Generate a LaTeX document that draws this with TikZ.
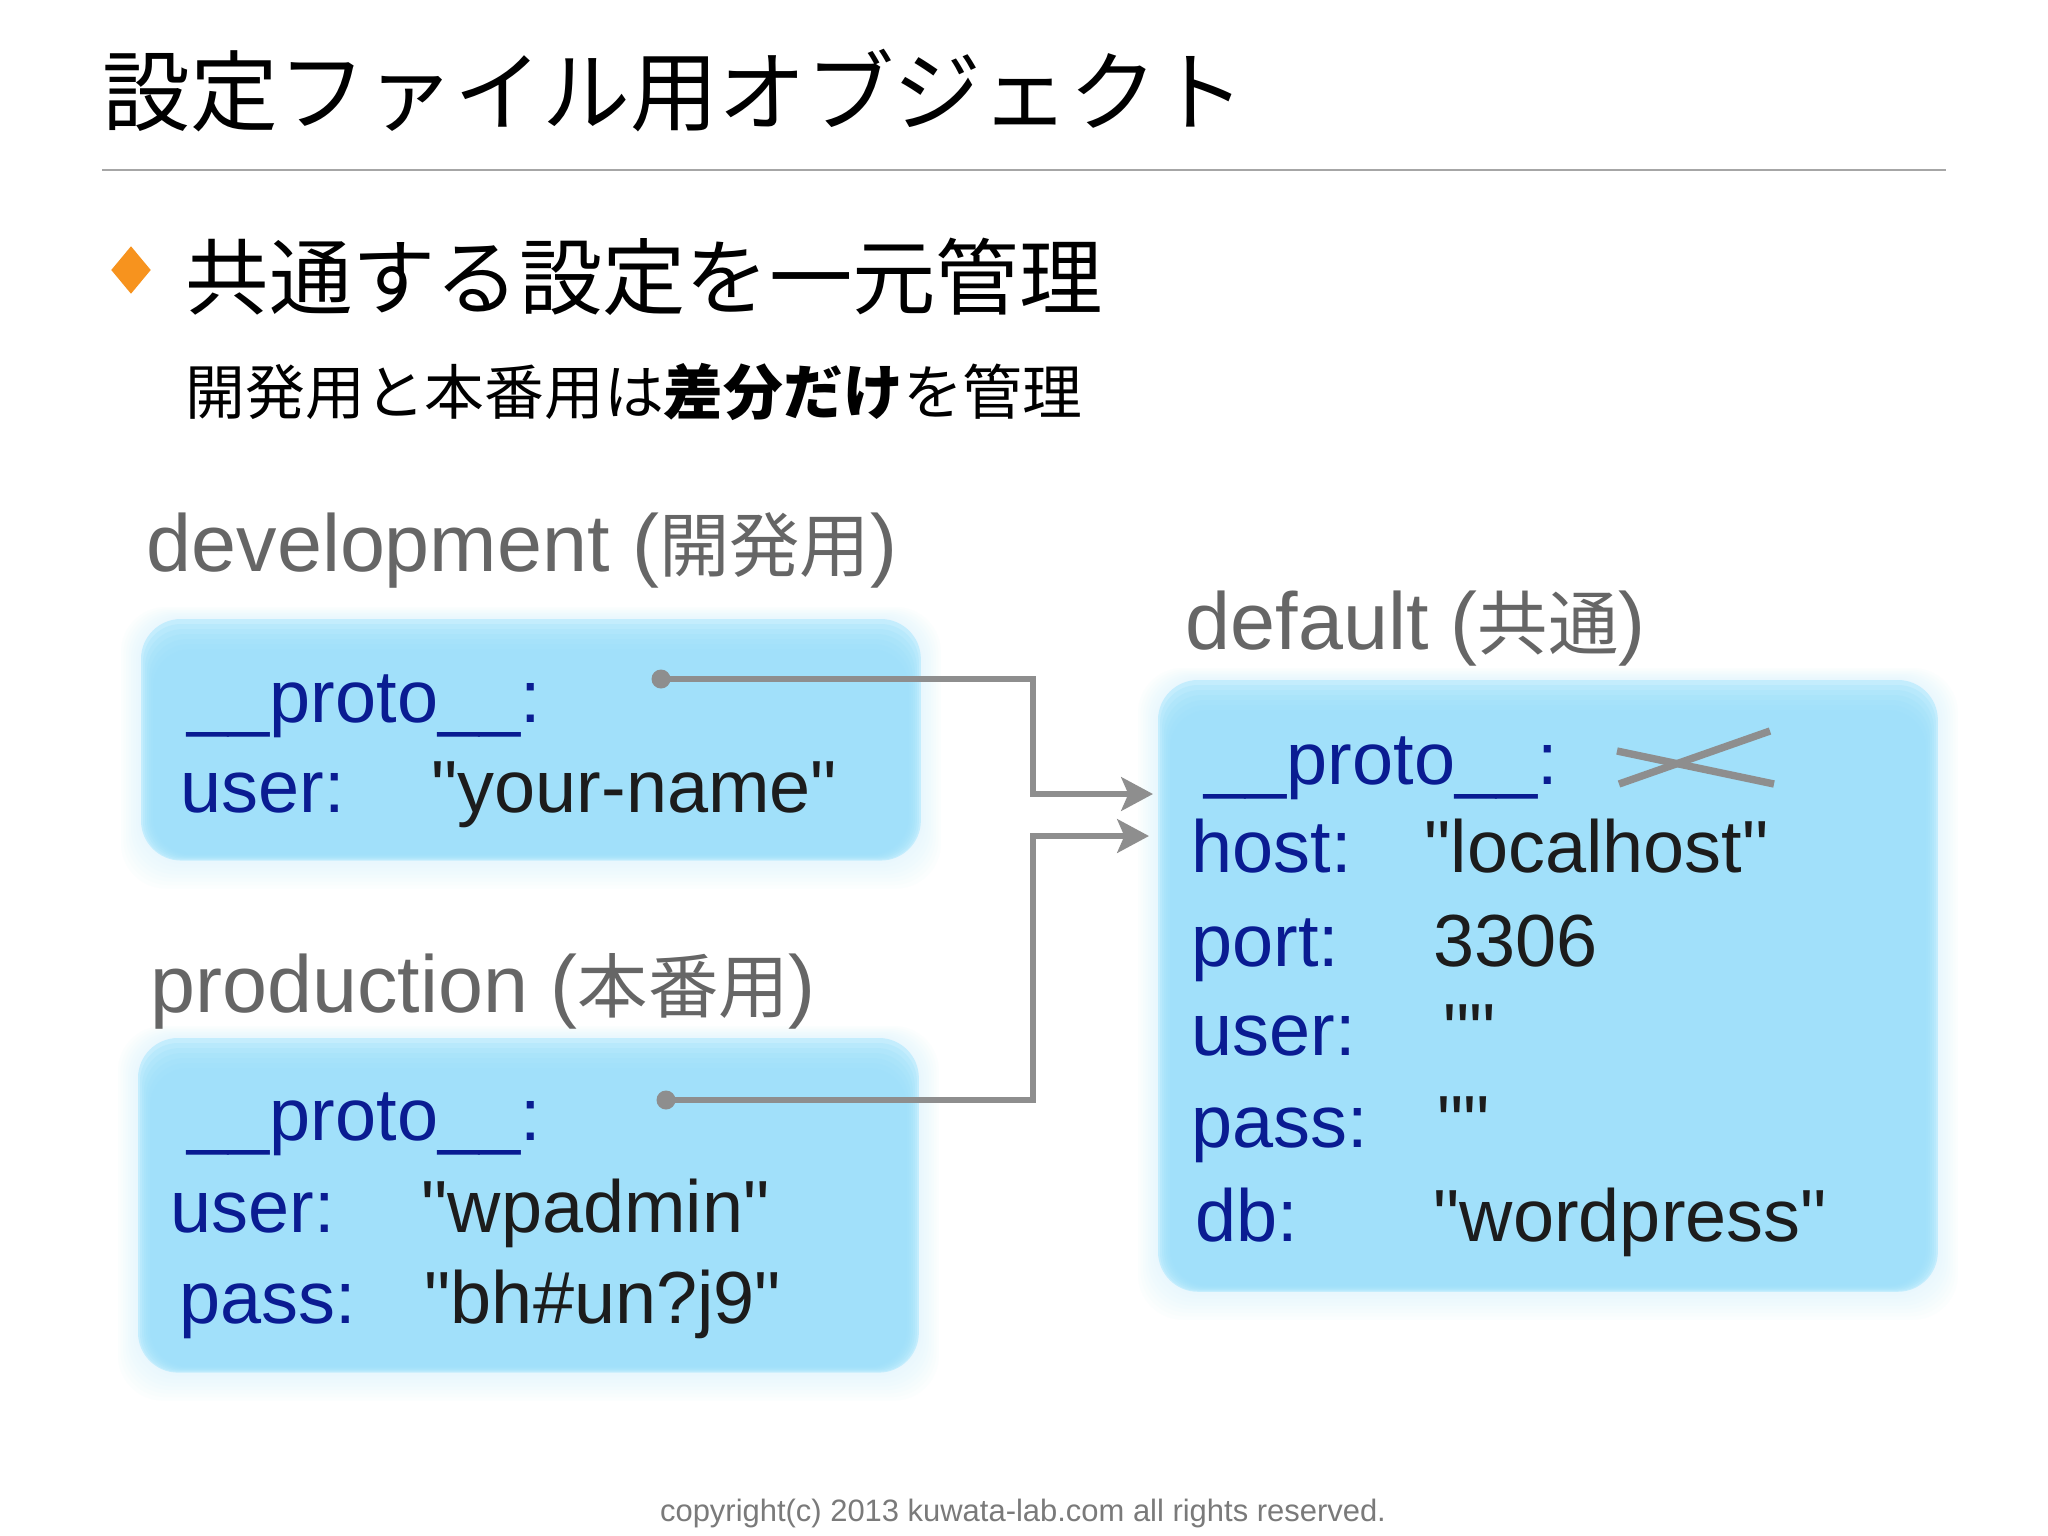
\documentclass[tikz,border=0pt]{standalone}
\usepackage{fontspec}
\setmainfont{Liberation Sans}
\newfontfamily\jp{Noto Sans CJK JP}
\usetikzlibrary{shapes.geometric, arrows.meta, positioning, calc}
\definecolor{KeyBlue}{HTML}{0A1C92}
\definecolor{ValueBlack}{HTML}{1C1C1C}
\definecolor{LabelGray}{HTML}{666666}
\definecolor{CopyGray}{HTML}{7A7A7A}
\definecolor{BoxBlue}{HTML}{9FE0FA}
\definecolor{BoxEdge}{HTML}{C4EDFD}
\definecolor{LinkGray}{HTML}{8E8E8E}
\definecolor{BulletOrange}{HTML}{F7931E}
\definecolor{RuleGray}{HTML}{A6A6A6}
\newcommand\titlefont{\fontsize{25}{30}\jp}
\newcommand\leadfont{\fontsize{23.7}{28}\jp}
\newcommand\notefont{\fontsize{17}{20}\jp}
\newcommand\labelfont{\fontsize{23}{27}\selectfont}
\newcommand\labeljp[1]{{\fontsize{20}{24}\jp #1}}
\newcommand\boxfont{\fontsize{21}{25}\selectfont}
\newcommand\qq[1]{\textquotedbl#1\textquotedbl}
\tikzset{
    % Blue object boxes
    config box/.style={
        rectangle,
        rounded corners=0.4cm,
        fill=BoxEdge,
        inner sep=0,
        anchor=north west
    },
    key text/.style={
        anchor=base west,
        inner sep=0,
        text=KeyBlue,
        font=\boxfont
    },
    value text/.style={
        anchor=base west,
        inner sep=0,
        text=ValueBlack,
        font=\boxfont
    },
    env label/.style={
        anchor=base west,
        inner sep=0,
        text=LabelGray,
        font=\labelfont
    },
    link dot/.style={
        circle,
        fill=LinkGray,
        inner sep=0,
        minimum size=0.19cm
    },
    link arrow/.style={
        -{Stealth[length=9pt, width=9.5pt, inset=2pt]},
        line width=1.8pt,
        LinkGray
    },
    cross line/.style={
        line width=2.1pt,
        LinkGray
    }
}

\begin{document}
\begin{tikzpicture}[x=0.01cm, y=-0.01cm]
        \useasboundingbox[fill=white] (0,0) rectangle (2048,1536);

        % Heading
        \node[anchor=west, inner sep=0, font=\titlefont] (title) at (102,91) {設定ファイル用オブジェクト};
        \draw[RuleGray, line width=0.6pt] (102,170) -- (1946,170);

        % Bullet line
        \node[diamond, fill=BulletOrange, inner sep=0, minimum width=0.4cm, minimum height=0.48cm] (bullet) at (131,270) {};
        \node[anchor=west, inner sep=0, font=\leadfont] (lead) at (185,277) {共通する設定を一元管理};
        \node[anchor=west, inner sep=0, font=\notefont] (note) at (185,392) {開発用と本番用は\textbf{差分だけ}を管理};

        % Boxes
        \node[config box, minimum width=7.78cm, minimum height=2.40cm] (dev) at (141,619) {};
        \node[config box, minimum width=7.79cm, minimum height=3.33cm] (prod) at (138,1038) {};
        \node[config box, minimum width=7.78cm, minimum height=6.10cm] (dflt) at (1158,680) {};

        % Glow round each box
        \foreach \b in {dev, prod, dflt} {
            \foreach \g in {1,...,8}
                \fill[BoxBlue!45, opacity=0.07, rounded corners=0.45cm]
                    ($(\b.north west)+(-2.5*\g,-1.5*\g)$) rectangle ($(\b.south east)+(2.5*\g,3.5*\g)$);
            \fill[BoxEdge, rounded corners=0.4cm] (\b.north west) rectangle (\b.south east);
            \foreach \g in {1,...,6}
                \fill[BoxBlue, opacity=0.3, rounded corners=0.38cm]
                    ($(\b.north west)+(2*\g,5*\g)$) rectangle ($(\b.south east)+(-2*\g,-1*\g)$);
        }

        % development
        \node[env label] (dev label) at (146,571) {development (\labeljp{開発用})};
        \node[key text] (dev proto) at (187,722) {\_\_proto\_\_:};
        \node[key text] (dev user) at (180,812) {user:};
        \node[value text] (dev user val) at (431,812) {\qq{your-name}};
        \node[link dot] (dev dot) at (661,679) {};

        % production
        \node[env label] (prod label) at (150,1012) {production (\labeljp{本番用})};
        \node[key text] (prod proto) at (187,1140) {\_\_proto\_\_:};
        \node[key text] (prod user) at (170,1232) {user:};
        \node[value text] (prod user val) at (421,1232) {\qq{wpadmin}};
        \node[key text] (prod pass) at (179,1323) {pass:};
        \node[value text] (prod pass val) at (424,1323) {\qq{bh\#un?j9}};
        \node[link dot] (prod dot) at (666,1100) {};

        % default
        \node[env label] (dflt label) at (1185,649) {default (\labeljp{共通})};
        \node[key text] (dflt proto) at (1204,784) {\_\_proto\_\_:};
        \node[key text] (dflt host) at (1191,872) {host:};
        \node[value text] (dflt host val) at (1424,872) {\qq{localhost}};
        \node[key text] (dflt port) at (1191,966) {port:};
        \node[value text] (dflt port val) at (1433,966) {3306};
        \node[key text] (dflt user) at (1191,1055) {user:};
        \node[value text] (dflt user val) at (1443,1055) {\qq{}};
        \node[key text] (dflt pass) at (1191,1147) {pass:};
        \node[value text] (dflt pass val) at (1437,1147) {\qq{}};
        \node[key text] (dflt db) at (1195,1241) {db:};
        \node[value text] (dflt db val) at (1433,1241) {\qq{wordpress}};

        % Crossed out prototype
        \draw[cross line] (1617,751) -- (1774,784);
        \draw[cross line] (1619,784) -- (1770,731);

        % Links to default
        \coordinate (dflt in1) at (1153,794);
        \coordinate (dflt in2) at (1149,836);
        \draw[link arrow] (dev dot.center) -- ++(372,0) |- (dflt in1);
        \draw[link arrow] (prod dot.center) -- ++(367,0) |- (dflt in2);

        % Footer
        \node[anchor=base, inner sep=0, text=CopyGray, font=\fontsize{8.8}{10}\selectfont] (copyright) at (1023,1521) {copyright(c) 2013 kuwata-lab.com all rights reserved.};
\end{tikzpicture}
\end{document}
